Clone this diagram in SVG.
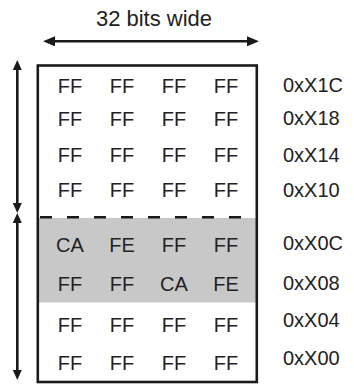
<svg xmlns="http://www.w3.org/2000/svg" width="354" height="388" viewBox="0 0 354 388">
<style>
text{font-family:"Liberation Sans",Arial,Helvetica,sans-serif;fill:#222}
.c{font-size:20px;text-anchor:middle}
.a{font-size:20px}
.t{font-size:22px;text-anchor:middle}
.ln{stroke:#1a1a1a;stroke-width:2.6;fill:none}
</style>
<defs>
<marker id="ah" markerUnits="userSpaceOnUse" viewBox="0 0 12 10" markerWidth="12" markerHeight="10" refX="2" refY="5" orient="auto-start-reverse"><path d="M0,0 L12,5 L0,10 z" fill="#1a1a1a"/></marker>
<marker id="av" markerUnits="userSpaceOnUse" viewBox="0 0 10 9" markerWidth="10" markerHeight="9" refX="2" refY="4.5" orient="auto-start-reverse"><path d="M0,0 L10,4.5 L0,9 z" fill="#1a1a1a"/></marker>
</defs>
<text class="t" x="154" y="26">32 bits wide</text>
<rect id="highlight" x="39" y="218" width="217.5" height="84.5" fill="#c8c8c8"/>
<g id="memory">
<rect x="37.8" y="65.5" width="219" height="316.5" class="ln"/>
<line x1="39" y1="217.3" x2="256" y2="217.3" class="ln" stroke-dasharray="12 15" stroke-dashoffset="-1"/>
</g>
<g id="connectors">
<line x1="53" y1="41.3" x2="249" y2="41.3" class="ln" marker-start="url(#ah)" marker-end="url(#ah)"/>
<line x1="17.3" y1="68" x2="17.3" y2="205" class="ln" marker-start="url(#av)" marker-end="url(#av)"/>
<line x1="17.3" y1="221" x2="17.3" y2="372" class="ln" marker-start="url(#av)" marker-end="url(#av)"/>
</g>
<g id="row1C"><text class="c" x="70" y="93">FF</text><text class="c" x="122" y="93">FF</text><text class="c" x="174" y="93">FF</text><text class="c" x="226" y="93">FF</text><text class="a" x="283" y="92">0xX1C</text></g>
<g id="row18"><text class="c" x="70" y="126">FF</text><text class="c" x="122" y="126">FF</text><text class="c" x="174" y="126">FF</text><text class="c" x="226" y="126">FF</text><text class="a" x="283" y="125">0xX18</text></g>
<g id="row14"><text class="c" x="70" y="162">FF</text><text class="c" x="122" y="162">FF</text><text class="c" x="174" y="162">FF</text><text class="c" x="226" y="162">FF</text><text class="a" x="283" y="162">0xX14</text></g>
<g id="row10"><text class="c" x="70" y="197">FF</text><text class="c" x="122" y="197">FF</text><text class="c" x="174" y="197">FF</text><text class="c" x="226" y="197">FF</text><text class="a" x="283" y="197">0xX10</text></g>
<g id="row0C"><text class="c" x="70" y="252">CA</text><text class="c" x="122" y="252">FE</text><text class="c" x="174" y="252">FF</text><text class="c" x="226" y="252">FF</text><text class="a" x="283" y="250">0xX0C</text></g>
<g id="row08"><text class="c" x="70" y="291">FF</text><text class="c" x="122" y="291">FF</text><text class="c" x="174" y="291">CA</text><text class="c" x="226" y="291">FE</text><text class="a" x="283" y="290">0xX08</text></g>
<g id="row04"><text class="c" x="70" y="332">FF</text><text class="c" x="122" y="332">FF</text><text class="c" x="174" y="332">FF</text><text class="c" x="226" y="332">FF</text><text class="a" x="283" y="327">0xX04</text></g>
<g id="row00"><text class="c" x="70" y="370">FF</text><text class="c" x="122" y="370">FF</text><text class="c" x="174" y="370">FF</text><text class="c" x="226" y="370">FF</text><text class="a" x="283" y="365">0xX00</text></g>
</svg>
